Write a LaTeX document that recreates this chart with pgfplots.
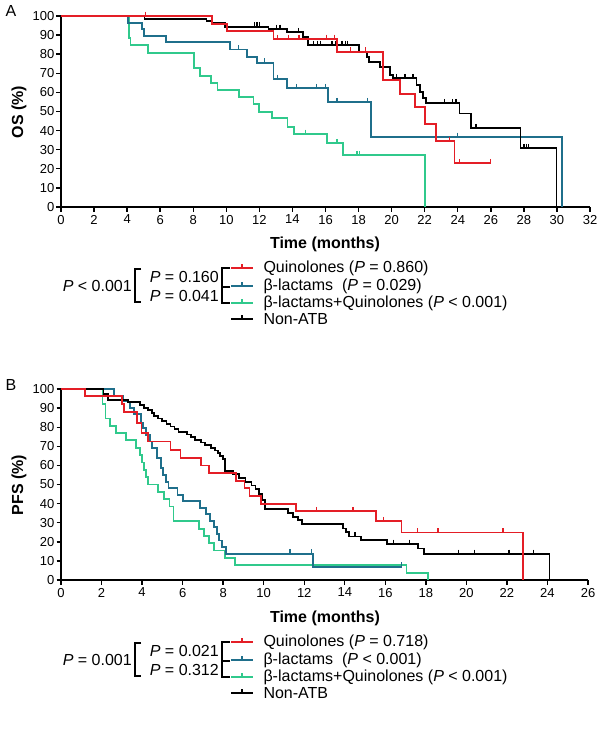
\documentclass[border=0pt]{standalone}
\usepackage{fontspec}
\setmainfont{Liberation Sans}
\usepackage{pgfplots}
\pgfplotsset{compat=1.18}
\definecolor{kmred}{HTML}{E41E26}
\definecolor{kmblue}{HTML}{1F6F8B}
\definecolor{kmgreen}{HTML}{30C98C}

\pgfplotsset{
  km/.style={
    scale only axis, anchor=south west,
    axis lines*=left, axis line style={-, line width=1.8pt},
    ymin=0, ymax=100, ytick={0,10,...,100}, xmin=0,
    tick align=outside, major tick length=4.5pt,
    every tick/.style={black, line width=1.4pt},
    tick label style={font=\fontsize{13}{13}\selectfont},
    yticklabel style={inner xsep=2pt},
    /pgf/number format/assume math mode=true,
    clip=false,
  },
  surv/.style={const plot mark left, line width=1.8pt, mark=none},
  cens/.style={only marks, mark=|, mark size=2.2pt, mark options={line width=1.3pt, yshift=2.2pt}},
}

% legend block with brackets; #1 = row of first entry (px from top)
\newcommand{\kmlegend}[5]{%
  \pgfmathsetmacro{\ra}{-(#1)}
  \pgfmathsetmacro{\rb}{-(#1+18)}
  \pgfmathsetmacro{\rc}{-(#1+35)}
  \pgfmathsetmacro{\rd}{-(#1+51)}
  \pgfmathsetmacro{\rab}{-(#1+9)}
  \pgfmathsetmacro{\rbc}{-(#1+28)}
  \begin{scope}[font=\fontsize{16}{17}\selectfont]
  \draw[line width=1.8pt] (141pt,\ra pt-1pt) -- (135pt,\ra pt-1pt) -- (135pt,\rc pt+1pt) -- (141pt,\rc pt+1pt);
  \draw[line width=1.8pt] (230pt,\ra pt) -- (222pt,\ra pt) -- (222pt,\rb pt-0.5pt) -- (230pt,\rb pt-0.5pt);
  \draw[line width=1.8pt] (230pt,\rb pt-1.5pt) -- (222pt,\rb pt-1.5pt) -- (222pt,\rc pt) -- (230pt,\rc pt);
  \node[anchor=east, inner xsep=1pt] at (133pt,\rb pt) {#2};
  \node[anchor=east, inner xsep=1pt] at (220pt,\rab pt) {\textit{P} = #3};
  \node[anchor=east, inner xsep=1pt] at (220pt,\rbc pt) {\textit{P} = #4};
  \foreach \yy/\cc in {\ra/kmred,\rb/kmblue,\rc/kmgreen,\rd/black}{
    \draw[\cc, line width=1.8pt] (231pt,\yy pt) -- (253pt,\yy pt);
    \draw[\cc, line width=1.3pt] (242pt,\yy pt) -- (242pt,\yy pt+4pt);
  }
  #5
  \end{scope}
}

\begin{document}
\begin{tikzpicture}
\useasboundingbox (0pt,0pt) rectangle (600pt,-735pt);

% ---------------- panel A: OS ----------------
\node[font=\fontsize{16}{16}\selectfont, anchor=west] at (2pt,-11pt) {A};
\begin{axis}[km, at={(61pt,-207pt)}, width=529pt, height=191pt,
  xmax=32, xtick={0,2,...,32}]
\addplot[surv, kmgreen] coordinates {(0,100) (4.09,88.4) (4.2,84.8) (5.25,80.8)
  (8.05,72.9) (8.4,68.6) (9.06,64.9) (9.47,61.4) (10.75,57.4) (11.64,53.8)
  (12.0,49.7) (12.75,46.4) (13.7,42) (14.1,38.2) (16.1,33.3) (17.04,27.1) (22.0,0)};
\addplot[cens, kmgreen] coordinates {(14.8,38.2) (16.7,33.3) (17.9,27.1) (18.05,27.1)};
\addplot[surv, kmblue] coordinates {(0,100) (4.05,96.5) (4.9,93) (5.0,89.7) (6.36,86.2)
  (10.23,82.5) (11.24,78.7) (11.84,75.6) (12.85,67) (13.69,62.1) (16.17,54.8)
  (18.73,36.6) (30.3,0)};
\addplot[cens, kmblue] coordinates {(10.75,82.5) (12.3,75.6) (13.1,67) (14.26,62.1)
  (15.45,62.1) (16.0,62.1) (16.7,54.8) (18.55,54.8) (24.0,36.6)};
\addplot[surv, black] coordinates {(0,100) (5.05,98.4) (8.8,97.2) (9.1,96.5) (9.93,94.4)
  (12.55,93.2) (13.65,91.5) (14.66,89.2) (14.96,84.8) (18.04,81.3) (18.5,78.7)
  (18.65,76) (19.3,73.5) (19.9,69.1) (20.06,67.4) (21.5,63.9) (21.7,60.4)
  (21.9,56.9) (22.07,54.3) (24.1,49) (24.8,41.2) (27.8,30.7) (29.97,0)};
\addplot[cens, black] coordinates {(11.7,94.4) (11.85,94.4) (12.0,94.4) (13.05,93.2)
  (13.25,93.2) (14.36,91.5) (15.26,84.8) (15.5,84.8) (15.7,84.8) (16.4,84.8)
  (16.6,84.8) (17.0,84.8) (17.2,84.8) (17.35,84.8) (20.3,67.4) (20.8,67.4)
  (21.3,67.4) (23.2,54.3) (23.7,54.3) (23.9,54.3) (25.1,41.2) (28.0,30.7)
  (28.15,30.7) (28.3,30.7)};
\addplot[surv, kmred] coordinates {(0,100) (9.12,95.8) (10.03,92) (12.85,88) (16.7,81.3)
  (19.5,66.5) (20.5,59) (21.4,52.5) (22.0,43.5) (22.7,34.5) (23.8,22.9) (26.0,22.9)};
\addplot[cens, kmred] coordinates {(5.1,100) (13.1,88) (13.75,88) (14.4,88) (16.05,88)
  (16.55,88) (17.5,81.3) (18.4,81.3) (23.5,34.5) (24.1,22.9) (26.0,22.9)};
\end{axis}
\node[rotate=90, font=\bfseries\fontsize{16}{16}\selectfont] at (19pt,-112pt) {OS (\%)};
\node[font=\bfseries\fontsize{16}{16}\selectfont] at (325pt,-244pt) {Time (months)};
\kmlegend{268}{\textit{P} < 0.001}{0.160}{0.041}{%
  \node[anchor=west] at (260pt,\ra pt) {Quinolones (\textit{P} = 0.860)};
  \node[anchor=west] at (260pt,\rb pt) {β-lactams\ \ (\textit{P} = 0.029)};
  \node[anchor=west] at (260pt,\rc pt) {β-lactams+Quinolones (\textit{P} < 0.001)};
  \node[anchor=west] at (260pt,\rd pt) {Non-ATB};}

% ---------------- panel B: PFS ----------------
\node[font=\fontsize{16}{16}\selectfont, anchor=west] at (2pt,-385pt) {B};
\begin{axis}[km, at={(61pt,-580pt)}, width=527pt, height=191pt,
  xmax=26, xtick={0,2,...,26}]
\addplot[surv, kmgreen] coordinates {(0,100) (2.05,92.3) (2.2,84.6) (2.4,80.8) (2.7,76.9)
  (3.2,73.1) (3.7,69.2) (3.9,65.4) (4.0,61.5) (4.1,57.7) (4.2,53.8) (4.3,50)
  (4.8,46.2) (5.1,42.3) (5.35,38.5) (5.55,30.8) (6.8,26.9) (7.05,23.1) (7.3,19.2)
  (7.55,15.4) (8.1,11.5) (8.6,7.7) (17.05,3.8) (18.1,0)};
\addplot[surv, kmblue] coordinates {(0,100) (2.6,96.5) (3.05,93.5) (3.4,90) (3.6,87)
  (3.95,82.5) (4.05,79.5) (4.2,76) (4.4,72.5) (4.5,69) (4.75,64) (4.93,58.5)
  (5.05,55) (5.18,51.5) (5.3,48.3) (5.75,44.5) (6.0,41.4) (6.85,37.9) (7.15,34.5)
  (7.35,31) (7.55,27.6) (7.7,24.1) (7.8,20.7) (7.95,17.2) (8.15,13.8) (12.45,6.9)
  (16.8,6.9)};
\addplot[cens, kmblue] coordinates {(11.3,13.8) (12.35,13.8) (16.8,6.9)};
\addplot[surv, black] coordinates {(0,100) (2.1,97.2) (2.3,94.4) (3.3,93) (3.9,91.6)
  (4.1,90.2) (4.3,88.8) (4.5,87.4) (4.6,86) (4.8,84.6) (5.0,83.2) (5.2,81.8)
  (5.4,80.4) (5.6,79) (5.8,77.6) (6.2,76.2) (6.4,74.8) (6.6,73.4) (6.9,72)
  (7.1,70.6) (7.4,69.2) (7.6,67.8) (7.75,66.4) (7.85,65) (8.0,63.4) (8.1,57)
  (8.5,55.5) (8.8,53.5) (9.1,51.5) (9.4,49.5) (9.6,47.5) (9.75,45) (9.9,42)
  (10.05,37) (11.2,35) (11.45,33) (11.7,31.5) (11.9,29.5) (13.9,27) (14.05,25)
  (14.2,22.8) (14.8,20.8) (16.1,18.8) (17.6,16.5) (17.9,13.6) (24.1,0)};
\addplot[cens, black] coordinates {(14.5,22.8) (16.4,18.8) (17.2,18.8) (19.6,13.6)
  (20.4,13.6) (22.1,13.6) (23.3,13.6)};
\addplot[surv, kmred] coordinates {(0,100) (1.2,96.5) (3.0,92) (3.1,88) (3.75,82)
  (3.97,77) (4.3,72.5) (5.4,68) (5.9,64) (6.9,60) (7.3,56) (8.65,52) (9.05,48)
  (9.3,44) (9.85,40) (11.6,36) (15.53,30.8) (16.8,24.9) (22.8,0)};
\addplot[cens, kmred] coordinates {(12.6,36) (14.4,36) (15.9,30.8) (17.6,24.9)
  (18.6,24.9) (21.8,24.9)};
\end{axis}
\node[rotate=90, font=\bfseries\fontsize{16}{16}\selectfont] at (19pt,-485pt) {PFS (\%)};
\node[font=\bfseries\fontsize{16}{16}\selectfont] at (325pt,-618pt) {Time (months)};
\kmlegend{642}{\textit{P} = 0.001}{0.021}{0.312}{%
  \node[anchor=west] at (260pt,\ra pt) {Quinolones (\textit{P} = 0.718)};
  \node[anchor=west] at (260pt,\rb pt) {β-lactams\ \ (\textit{P} < 0.001)};
  \node[anchor=west] at (260pt,\rc pt) {β-lactams+Quinolones (\textit{P} < 0.001)};
  \node[anchor=west] at (260pt,\rd pt) {Non-ATB};}
\end{tikzpicture}
\end{document}
